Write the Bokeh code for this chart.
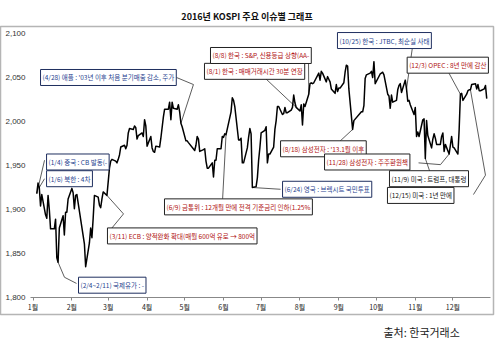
import pandas as pd
from bokeh.plotting import figure
from bokeh.models import Label, FixedTicker, NumeralTickFormatter, Range1d, Title
from bokeh.embed import file_html
from bokeh.resources import INLINE

YEAR = 2016

trade_dates = [
    "01-04", "01-05", "01-06", "01-07", "01-08", "01-11", "01-12", "01-13", "01-14", "01-15",
    "01-18", "01-19", "01-20", "01-21", "01-22", "01-25", "01-26", "01-27", "01-28", "01-29",
    "02-01", "02-02", "02-03", "02-04", "02-05", "02-11", "02-12", "02-15", "02-16", "02-17",
    "02-18", "02-19", "02-22", "02-23", "02-24", "02-25", "02-26", "02-29",
    "03-02", "03-03", "03-04", "03-07", "03-08", "03-09", "03-10", "03-11", "03-14", "03-15",
    "03-16", "03-17", "03-18", "03-21", "03-22", "03-23", "03-24", "03-25", "03-28", "03-29",
    "03-30", "03-31",
    "04-01", "04-04", "04-05", "04-06", "04-07", "04-08", "04-11", "04-12", "04-14", "04-15",
    "04-18", "04-19", "04-20", "04-21", "04-22", "04-25", "04-26", "04-27", "04-28", "04-29",
    "05-02", "05-03", "05-04", "05-09", "05-10", "05-11", "05-12", "05-13", "05-16", "05-17",
    "05-18", "05-19", "05-20", "05-23", "05-24", "05-25", "05-26", "05-27", "05-30", "05-31",
    "06-01", "06-02", "06-03", "06-07", "06-08", "06-09", "06-10", "06-13", "06-14", "06-15",
    "06-16", "06-17", "06-20", "06-21", "06-22", "06-23", "06-24", "06-27", "06-28", "06-29",
    "06-30",
    "07-01", "07-04", "07-05", "07-06", "07-07", "07-08", "07-11", "07-12", "07-13", "07-14",
    "07-15", "07-18", "07-19", "07-20", "07-21", "07-22", "07-25", "07-26", "07-27", "07-28",
    "07-29",
    "08-01", "08-02", "08-03", "08-04", "08-05", "08-08", "08-09", "08-10", "08-11", "08-12",
    "08-16", "08-17", "08-18", "08-19", "08-22", "08-23", "08-24", "08-25", "08-26", "08-29",
    "08-30", "08-31",
    "09-01", "09-02", "09-05", "09-06", "09-07", "09-08", "09-09", "09-12", "09-13", "09-19",
    "09-20", "09-21", "09-22", "09-23", "09-26", "09-27", "09-28", "09-29", "09-30",
    "10-04", "10-05", "10-06", "10-07", "10-10", "10-11", "10-12", "10-13", "10-14", "10-17",
    "10-18", "10-19", "10-20", "10-21", "10-24", "10-25", "10-26", "10-27", "10-28", "10-31",
    "11-01", "11-02", "11-03", "11-04", "11-07", "11-08", "11-09", "11-10", "11-11", "11-14",
    "11-15", "11-16", "11-17", "11-18", "11-21", "11-22", "11-23", "11-24", "11-25", "11-28",
    "11-29", "11-30",
    "12-01", "12-02", "12-05", "12-06", "12-07", "12-08", "12-09", "12-12", "12-13", "12-14",
    "12-15", "12-16", "12-19", "12-20", "12-21", "12-22", "12-23", "12-26", "12-27", "12-28",
]

kospi_close = [
    1918, 1930, 1925, 1904, 1917, 1894, 1890, 1916, 1900, 1878,
    1878, 1889, 1845, 1840, 1879, 1893, 1871, 1897, 1897, 1912,
    1924, 1919, 1901, 1916, 1917, 1861, 1835, 1862, 1879, 1868,
    1890, 1916, 1914, 1905, 1902, 1912, 1920, 1916,
    1947, 1955, 1957, 1955, 1953, 1957, 1962, 1971, 1973, 1969,
    1973, 1987, 1992, 1991, 1995, 1993, 1980, 1984, 1987, 1983,
    2002, 1995,
    1972, 1983, 1970, 1966, 1965, 1972, 1971, 1981, 2005, 2014,
    2014, 2022, 2002, 2022, 2015, 2014, 2019, 2011, 1998, 1994,
    1978, 1978, 1976, 1967, 1973, 1983, 1980, 1966, 1968, 1969,
    1955, 1947, 1947, 1953, 1937, 1956, 1956, 1969, 1969, 1983,
    1982, 1986, 1985, 2011, 2027, 2024, 2017, 1979, 1979, 1981,
    1953, 1953, 1970, 1982, 1992, 1986, 1925, 1926, 1936, 1956,
    1970,
    1987, 1990, 1994, 1953, 1963, 1963, 1971, 1991, 2001, 2017,
    2017, 2008, 2009, 2016, 2010, 2010, 2013, 2016, 2030, 2021,
    2016,
    2012, 2019, 1996, 2020, 2017, 2031, 2043, 2044, 2043, 2044,
    2055, 2047, 2057, 2055, 2045, 2051, 2048, 2045, 2037, 2032,
    2042, 2034,
    2038, 2038, 2044, 2056, 2064, 2063, 2037, 1991, 2001, 2011,
    2011, 2018, 2049, 2053, 2055, 2057, 2050, 2068, 2043,
    2054, 2055, 2056, 2053, 2031, 2029, 2015, 2030, 2022, 2024,
    2036, 2041, 2043, 2033, 2047, 2037, 2023, 2024, 2019, 2008,
    2016, 1983, 1988, 1983, 2002, 2003, 1958, 2001, 1984, 1970,
    1980, 1986, 1981, 1974, 1974, 1983, 1987, 1966, 1974, 1963,
    1973, 1983,
    1971, 1970, 1963, 1991, 2031, 2032, 2024, 2031, 2035, 2036,
    2036, 2042, 2043, 2037, 2042, 2035, 2035, 2037, 2041, 2026,
]

month_tick_days = [0, 31, 60, 91, 121, 152, 182, 213, 244, 274, 305, 335]
month_tick_labels = ["1월", "2월", "3월", "4월", "5월", "6월",
                     "7월", "8월", "9월", "10월", "11월", "12월"]
y_tick_values = [1800, 1850, 1900, 1950, 2000, 2050, 2100]

# event boxes: text, colour, box position (day, value), leader start, optional elbow, target date
ann_texts = [
    "(1/4) 중국 : CB 발동(-",
    "(1/6) 북한 : 4차",
    "(2/4~2/11) 국제유가 : -",
    "(3/11) ECB : 양적완화 확대(매월 600억 유로 → 800억",
    "(4/28) 애플 : '03년 이후 처음 분기매출 감소, 주가",
    "(6/9) 금통위 : 12개월 만에 전격 기준금리 인하(1.25%",
    "(6/24) 영국 : 브렉시트 국민투표",
    "(8/1) 한국 : 매매거래시간 30분 연장",
    "(8/8) 한국 : S&P, 신용등급 상향(AA-",
    "(8/18) 삼성전자 : '13.1월 이후",
    "(10/25) 한국 : JTBC, 최순실 사태",
    "(11/9) 미국 : 트럼프, 대통령",
    "(11/28) 삼성전자 : 주주환원책",
    "(12/3) OPEC : 8년 만에 감산",
    "(12/15) 미국 : 1년 만에",
]
ann_kind = ["blue", "blue", "blue", "red", "blue", "red", "blue", "red", "red", "red",
            "blue", "black", "red", "red", "black"]
ann_box_x = [10.8, 10.8, 36.3, 59.4, 6.0, 104.9, 199.1, 136.8, 141.6, 197.5,
             242.9, 284.4, 232.6, 298.5, 282.8]
ann_box_y = [1954, 1935, 1814, 1870, 2050, 1903, 1923, 2057, 2075, 1969,
             2092, 1935, 1954, 2064, 1916]
lead_x0 = [9.2, 9.2, 34.7, 61.8, 114.5, 151.2, 197.5, 183.9, 219.8, 242.9,
           302.8, 317.1, 307.6, 330.7, 351.4]
lead_y0 = [1956, 1935, 1816, 1877, 2050, 1910, 1923, 2051, 2069, 1975,
           2085, 1941, 1953, 2058, 1917]
lead_ex = [None, None, 25.1, 72.2, 128.0, None, None, None, None, None,
           None, None, 325.1, None, 361.0]
lead_ey = [None, None, 1823, 1895, 2042, None, None, None, None, None,
           None, None, 1951, None, 1939]
lead_target = ["01-04", "01-06", "01-21", "02-29", "04-28", "06-03", "06-24", "08-01",
               "08-08", "09-12", "10-25", "11-09", "11-28", "12-07", "12-15"]

text_colors = {"blue": "#1F3F8F", "red": "#B01010", "black": "#111111"}
border_colors = {"blue": "#1F2F5F", "red": "#222222", "black": "#222222"}

# ---------------------------------------------------------------
stamps = pd.to_datetime([f"{YEAR}-{d}" for d in trade_dates])
day_index = [int(v) - 1 for v in stamps.dayofyear]
pos_by_date = dict(zip(trade_dates, day_index))
val_by_date = dict(zip(trade_dates, kospi_close))

KFONT = "Noto Sans CJK KR"
W, H = 500, 356

# frame covers the whole chart box; axes are pinned inside it
p = figure(width=W, height=H, output_backend="svg", toolbar_location=None,
           x_range=Range1d(-25.94, 367.4), y_range=Range1d(1780.7, 2107.95),
           min_border_left=0, min_border_right=7, min_border_top=26, min_border_bottom=42,
           background_fill_color="white", border_fill_color="white")
p.outline_line_color = "#b5b5b5"
p.outline_line_width = 1.5
p.grid.grid_line_color = None

p.title.text = "2016년 KOSPI 주요 이슈별 그래프"
p.title.align = "center"
p.title.offset = -2
p.title.standoff = 7
p.title.text_font = KFONT
p.title.text_font_size = "9px"
p.title.text_font_style = "bold"
p.title.text_color = "#111111"

# leader lines
xs, ys = [], []
for i in range(len(ann_texts)):
    tx = pos_by_date[lead_target[i]]
    ty = val_by_date[lead_target[i]]
    lx = [lead_x0[i]]
    ly = [lead_y0[i]]
    if lead_ex[i] is not None:
        lx.append(lead_ex[i])
        ly.append(lead_ey[i])
    lx.append(tx)
    ly.append(ty)
    xs.append(lx)
    ys.append(ly)
p.multi_line(xs, ys, line_color="#333333", line_width=0.8)

p.line(day_index, kospi_close, line_color="#000000", line_width=1.5, line_join="round")

for i, t in enumerate(ann_texts):
    k = ann_kind[i]
    p.add_layout(Label(x=ann_box_x[i], y=ann_box_y[i], text=t,
                       text_font=KFONT, text_font_size="6.5px", text_color=text_colors[k],
                       text_align="left", text_baseline="middle",
                       background_fill_color="white", border_line_color=border_colors[k],
                       border_line_width=1, padding=(2, 3)))

xa = p.xaxis[0]
xa.fixed_location = 1800
xa.bounds = (-2, 365)
xa.ticker = FixedTicker(ticks=month_tick_days)
xa.major_label_overrides = {d: l for d, l in zip(month_tick_days, month_tick_labels)}
xa.minor_tick_line_color = None
xa.major_tick_in = 0
xa.major_tick_out = 3
xa.axis_line_color = "#888888"
xa.major_tick_line_color = "#888888"
xa.major_label_standoff = 1
xa.major_label_text_font = KFONT
xa.major_label_text_font_size = "7px"
xa.major_label_text_color = "#222222"

ya = p.yaxis[0]
ya.fixed_location = -2
ya.ticker = FixedTicker(ticks=y_tick_values)
ya.formatter = NumeralTickFormatter(format="0,0")
ya.axis_line_color = None
ya.major_tick_line_color = None
ya.minor_tick_line_color = None
ya.major_tick_out = 0
ya.major_label_standoff = 5
ya.major_label_text_font = "Liberation Sans"
ya.major_label_text_font_size = "8px"
ya.major_label_text_color = "#333333"

p.add_layout(Title(text="출처: 한국거래소", align="left", offset=383, standoff=14,
                   text_font=KFONT, text_font_size="11px", text_font_style="normal",
                   text_color="#222222"), "below")

open("out.html", "w").write(file_html(p, INLINE))
